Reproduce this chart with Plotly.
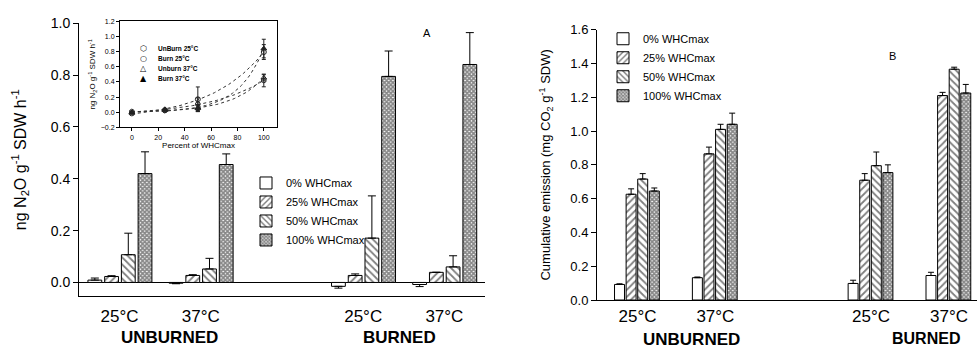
import numpy as np
import plotly.graph_objects as go

# ---------------- data ----------------
group_names = ["Unburned 25°C", "Unburned 37°C", "Burned 25°C", "Burned 37°C"]
temp_labels = ["25°C", "37°C", "25°C", "37°C"]
treatment_labels = ["UNBURNED", "BURNED"]
whc_labels = ["0% WHCmax", "25% WHCmax", "50% WHCmax", "100% WHCmax"]
whc_percent = [0, 25, 50, 100]

# Panel A: N2O flux (ng N2O g-1 SDW h-1), one list per WHC level over the 4 groups
n2o_whc0 = [0.009, -0.003, -0.015, -0.008]
n2o_whc25 = [0.023, 0.027, 0.027, 0.039]
n2o_whc50 = [0.107, 0.052, 0.171, 0.060]
n2o_whc100 = [0.420, 0.455, 0.795, 0.841]
n2o_err0 = [0.008, 0.002, 0.007, 0.008]
n2o_err25 = [0.003, 0.003, 0.006, 0.0]
n2o_err50 = [0.083, 0.041, 0.163, 0.043]
n2o_err100 = [0.084, 0.041, 0.098, 0.123]

# Panel B: cumulative CO2 emission (mg CO2 g-1 SDW)
co2_whc0 = [0.092, 0.132, 0.098, 0.145]
co2_whc25 = [0.626, 0.865, 0.709, 1.210]
co2_whc50 = [0.716, 1.010, 0.795, 1.366]
co2_whc100 = [0.645, 1.040, 0.754, 1.225]
co2_err0 = [0.004, 0.004, 0.019, 0.019]
co2_err25 = [0.032, 0.040, 0.039, 0.019]
co2_err50 = [0.032, 0.030, 0.081, 0.012]
co2_err100 = [0.018, 0.066, 0.046, 0.051]

# Inset series (order as in inset legend) -> index into group_names
inset_names = ["UnBurn 25°C", "Burn 25°C", "Unburn 37°C", "Burn 37°C"]
inset_group_index = [0, 2, 1, 3]

# ---------------- helpers ----------------
n2o_vals = [n2o_whc0, n2o_whc25, n2o_whc50, n2o_whc100]
n2o_errs = [n2o_err0, n2o_err25, n2o_err50, n2o_err100]
co2_vals = [co2_whc0, co2_whc25, co2_whc50, co2_whc100]
co2_errs = [co2_err0, co2_err25, co2_err50, co2_err100]

# numeric group positions with a gap between treatments
pos = [i + (1 if i >= 2 else 0) for i in range(len(group_names))]

patterns = [
    dict(shape=""),
    dict(shape="/", size=5, solidity=0.35, fgcolor="black", bgcolor="white"),
    dict(shape="\\", size=5, solidity=0.35, fgcolor="black", bgcolor="white"),
    dict(shape="x", size=3, solidity=0.8, fgcolor="#111", bgcolor="white"),
]

FONT = "Arial, Liberation Sans, sans-serif"
fig = go.Figure()


def add_bars(vals, errs, xa, ya, legend, offsets, width, capw):
    for i in range(4):
        v = np.array(vals[i], dtype=float)
        e = np.array(errs[i], dtype=float)
        plus = np.where(v >= 0, e, 0.0)
        minus = np.where(v < 0, e, 0.0)
        fig.add_trace(go.Bar(
            x=pos, y=v, name=whc_labels[i], xaxis=xa, yaxis=ya,
            offset=offsets[i], width=width, legend=legend,
            marker=dict(color="white", line=dict(color="black", width=1),
                        pattern=patterns[i]),
            error_y=dict(type="data", symmetric=False, array=plus, arrayminus=minus,
                         color="black", thickness=1, width=capw),
        ))


add_bars(n2o_vals, n2o_errs, "x", "y", "legend",
         [-0.39 + 0.206 * i for i in range(4)], 0.17, 4)
add_bars(co2_vals, co2_errs, "x2", "y2", "legend2",
         [-0.295 + 0.149 * i for i in range(4)], 0.128, 3)

# ---------------- inset ----------------
symbols = ["hexagon-open", "circle-open", "triangle-up-open", "triangle-up"]
xw = np.array(whc_percent, dtype=float)
xx = np.linspace(0, 100, 60)


def exp_fit(x, y):
    best = None
    for b in np.linspace(0.005, 0.1, 300):
        A = np.column_stack([np.exp(b * x), np.ones_like(x)])
        coef, *_ = np.linalg.lstsq(A, y, rcond=None)
        sse = float(np.sum((A @ coef - y) ** 2))
        if best is None or sse < best[0]:
            best = (sse, b, coef)
    _, b, coef = best
    return coef[0] * np.exp(b * xx) + coef[1]


for k, g in enumerate(inset_group_index):
    yv = np.array([n2o_vals[w][g] for w in range(4)])
    ye = np.array([n2o_errs[w][g] for w in range(4)])
    fig.add_trace(go.Scatter(
        x=xx, y=exp_fit(xw, yv), mode="lines", xaxis="x3", yaxis="y3",
        line=dict(color="#333", width=1, dash="dot"), showlegend=False,
        hoverinfo="skip"))
    fig.add_trace(go.Scatter(
        x=xw, y=yv, mode="markers", xaxis="x3", yaxis="y3", name=inset_names[k],
        showlegend=False,
        marker=dict(symbol=symbols[k], size=5, color="#222",
                    line=dict(color="#222", width=1)),
        error_y=dict(type="data", array=ye, color="#222", thickness=1, width=2)))

# ---------------- layout ----------------
W, H = 977, 357


def px(x):
    return x / W


def py(y):
    return 1 - y / H


axis_common = dict(showgrid=False, linecolor="black", linewidth=1, showline=True,
                   color="black")

layout = dict(
    width=W, height=H, margin=dict(l=0, r=0, t=0, b=0),
    paper_bgcolor="white", plot_bgcolor="white",
    font=dict(family=FONT, color="black"),
    barmode="overlay", showlegend=True,
    xaxis=dict(axis_common, domain=[px(79), px(485)], range=[-0.5, 4.5],
               anchor="y", zeroline=False, tickvals=pos, ticktext=temp_labels,
               ticks="outside", ticklen=4, tickcolor="rgba(0,0,0,0)",
               tickfont=dict(size=17)),
    yaxis=dict(axis_common, domain=[py(301.7), py(16)], range=[-0.053, 1.0],
               anchor="x", tickvals=[0, 0.2, 0.4, 0.6, 0.8, 1.0], tickformat=".1f",
               ticks="outside", ticklen=5, tickfont=dict(size=14),
               zeroline=True, zerolinecolor="black", zerolinewidth=1,
               title=dict(text="ng N<sub>2</sub>O g<sup>-1</sup> SDW h<sup>-1</sup>",
                          font=dict(size=16), standoff=20)),
    xaxis2=dict(axis_common, domain=[px(597), 1.0], range=[-0.52, 4.36],
                anchor="y2", zeroline=False, tickvals=pos, ticktext=temp_labels,
                ticks="outside", ticklen=1, tickcolor="rgba(0,0,0,0)",
                tickfont=dict(size=17)),
    yaxis2=dict(axis_common, domain=[py(305.7), py(22.7)], range=[0, 1.6],
                anchor="x2", dtick=0.2, tickformat=".1f", ticks="outside",
                ticklen=5, tickfont=dict(size=13), zeroline=False,
                title=dict(text="Cumulative emission (mg CO<sub>2</sub> g<sup>-1</sup> SDW)",
                           font=dict(size=13), standoff=16)),
    xaxis3=dict(axis_common, domain=[px(120), px(277)], range=[-9, 110],
                anchor="y3", mirror=True, zeroline=False, dtick=20,
                ticks="outside", ticklen=3, tickfont=dict(size=7),
                title=dict(text="Percent of WHCmax", font=dict(size=8), standoff=2)),
    yaxis3=dict(axis_common, domain=[py(125), py(14)], range=[-0.2, 1.2],
                anchor="x3", mirror=True, zeroline=False, dtick=0.2,
                tickformat=".1f", ticks="outside", ticklen=3,
                tickfont=dict(size=7),
                title=dict(text="ng N<sub>2</sub>O g<sup>-1</sup> SDW h<sup>-1</sup>",
                           font=dict(size=8), standoff=3)),
    legend=dict(x=px(246), y=py(168), xanchor="left", yanchor="top",
                bgcolor="rgba(0,0,0,0)", font=dict(size=11), itemwidth=30,
                tracegroupgap=0),
    legend2=dict(x=px(603), y=py(17), xanchor="left", yanchor="top",
                 bgcolor="rgba(0,0,0,0)", font=dict(size=11), itemwidth=30,
                 tracegroupgap=0),
)
fig.update_layout(**layout)


def note(text, x, y, size, **kw):
    d = dict(text=text, x=px(x), y=py(y), xref="paper", yref="paper",
             showarrow=False, xanchor="center", yanchor="middle",
             font=dict(size=size))
    d.update(kw)
    return d


annotations = [
    note("A", 427, 26, 11),
    note("B", 892, 50, 11),
    note("<b>" + treatment_labels[0] + "</b>", 169, 345, 17),
    note("<b>" + treatment_labels[1] + "</b>", 399, 345, 17),
    note("<b>" + treatment_labels[0] + "</b>", 691, 347, 17),
    note("<b>" + treatment_labels[1] + "</b>", 926, 346, 16),
]
glyphs = ["⬡", "○", "△", "▲"]
for k, name in enumerate(inset_names):
    yy = 42 + 10.6 * k
    annotations.append(note(glyphs[k], 143, yy, 8,
                            font=dict(size=8, family="DejaVu Sans")))
    annotations.append(note("<b>" + name + "</b>", 156, yy, 6.5, xanchor="left"))
fig.update_layout(annotations=annotations)

fig.write_html("out.html", config={"displayModeBar": False},
               post_script="document.body.style.margin='0';"
                           "document.body.style.overflow='hidden';")
